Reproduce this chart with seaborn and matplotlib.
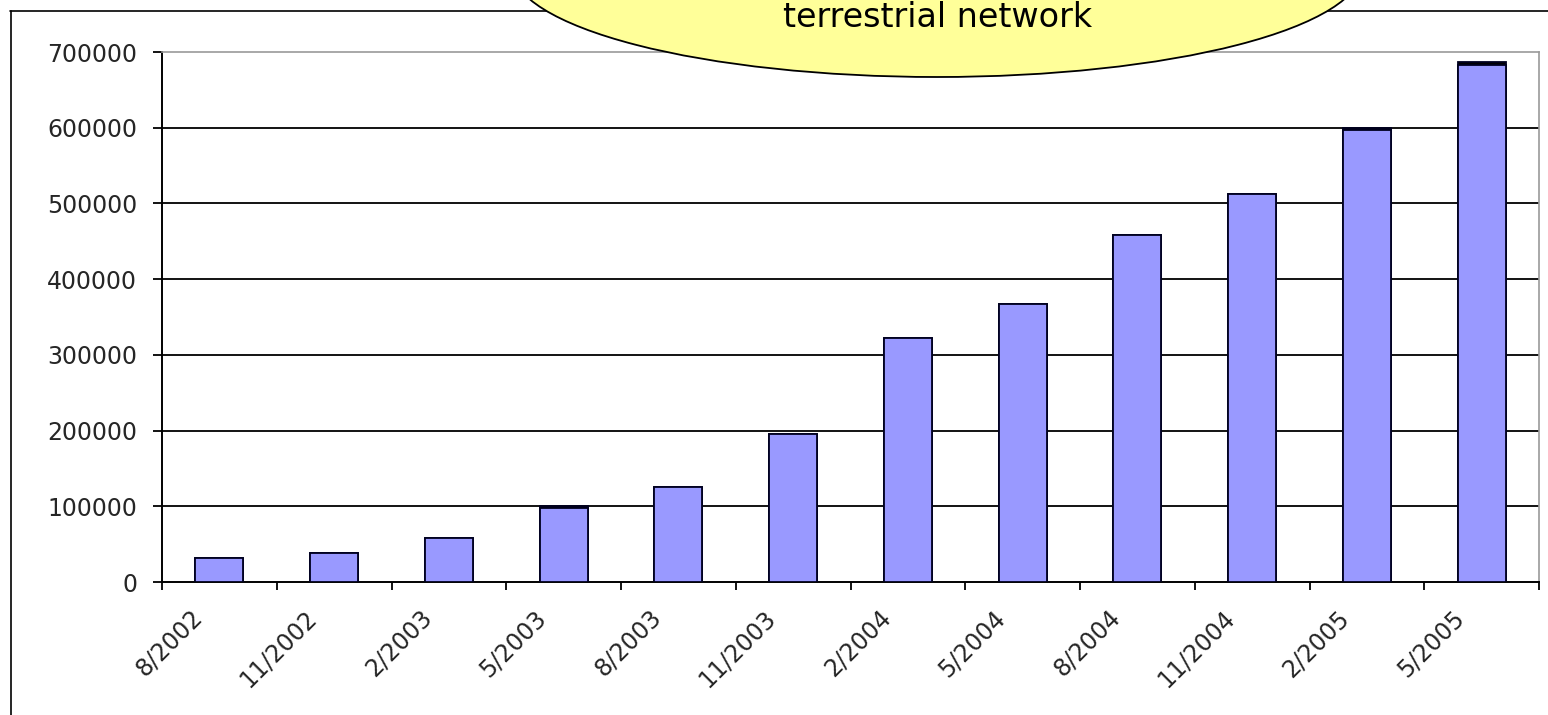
import matplotlib
matplotlib.use("Agg")
import matplotlib.pyplot as plt
import matplotlib.transforms as mtransforms
import seaborn as sns
import pandas as pd
import numpy as np
from matplotlib.patches import Ellipse
from matplotlib.lines import Line2D
from matplotlib.ticker import FixedLocator, NullFormatter

# ---- data ----
categories = ["8/2002", "11/2002", "2/2003", "5/2003", "8/2003", "11/2003",
              "2/2004", "5/2004", "8/2004", "11/2004", "2/2005", "5/2005"]
terrestrial = [31800, 38400, 58300, 97500, 125800, 195600,
               321900, 366900, 458000, 512600, 597000, 683000]
other = [0, 0, 0, 2500, 0, 0, 0, 0, 0, 0, 3000, 3500]
y_ticks = [0, 100000, 200000, 300000, 400000, 500000, 600000, 700000]
callout_text = "terrestrial network"

sns.set_style("white")
plt.rcParams['font.family'] = ['DejaVu Sans']

W, H = 1548, 715
fig = plt.figure(figsize=(W / 100, H / 100), dpi=100)
fig.patch.set_facecolor("white")

# outer frame (top and left edges visible)
fig.add_artist(Line2D([10.5 / W, 10.5 / W], [0, 1 - 11 / H], transform=fig.transFigure,
                      color="black", lw=1.2, zorder=1))
fig.add_artist(Line2D([10 / W, 1], [1 - 11 / H, 1 - 11 / H], transform=fig.transFigure,
                      color="black", lw=1.2, zorder=1))

left, right, top, bottom = 162, 1539, 52, 582
ax = fig.add_axes([left / W, 1 - bottom / H, (right - left) / W, (bottom - top) / H])
ax.set_zorder(2)

df = pd.DataFrame({"period": categories, "terrestrial": terrestrial, "other": other})
df["total"] = df["terrestrial"] + df["other"]

sns.barplot(data=df, x="period", y="total", color="black", width=0.42, saturation=1,
            edgecolor="#000020", linewidth=1.3, ax=ax, zorder=3)
sns.barplot(data=df, x="period", y="terrestrial", color="#9999FF", width=0.42, saturation=1,
            edgecolor="#000020", linewidth=1.3, ax=ax, zorder=3)

ax.set_xlim(-0.5, len(categories) - 0.5)
ax.set_ylim(0, 700000)
ax.set_xlabel("")
ax.set_ylabel("")

# y axis
ax.yaxis.set_major_locator(FixedLocator(y_ticks))
ax.set_yticklabels([str(v) for v in y_ticks])
ax.tick_params(axis="y", which="major", left=True, length=6.5, width=1.3, direction="out",
               color="black", labelsize=17, labelcolor="#262626", pad=11.5)
ax.yaxis.grid(True, color="black", lw=1.3)
ax.set_axisbelow(True)
ax.get_yaxis().get_major_ticks()[-1].gridline.set_visible(False)
ax.get_yaxis().get_major_ticks()[0].gridline.set_visible(False)

# x axis: ticks at category boundaries, labels at centers
ax.xaxis.set_major_locator(FixedLocator(np.arange(-0.5, len(categories), 1.0)))
ax.xaxis.set_major_formatter(NullFormatter())
ax.xaxis.set_minor_locator(FixedLocator(np.arange(len(categories))))
ax.set_xticklabels(categories, minor=True)
ax.tick_params(axis="x", which="major", bottom=True, length=6, width=1.3, direction="out",
               color="black")
ax.tick_params(axis="x", which="minor", bottom=True, length=0, labelsize=17,
               labelcolor="#262626", pad=23)
shift = mtransforms.ScaledTranslation(-21 / 100, 0, fig.dpi_scale_trans)
for lab in ax.get_xticklabels(minor=True):
    lab.set_rotation(45)
    lab.set_ha("right")
    lab.set_va("center")
    lab.set_rotation_mode("anchor")
    lab.set_transform(lab.get_transform() + shift)

for s in ["left", "bottom"]:
    ax.spines[s].set_color("black")
    ax.spines[s].set_linewidth(1.4)
for s in ["top", "right"]:
    ax.spines[s].set_visible(True)
    ax.spines[s].set_color("#9a9a9a")
    ax.spines[s].set_linewidth(1.2)

# callout ellipse at top (cut off by the figure edge)
ell = Ellipse((937 / W, 1 + 33 / H), 852 / W, 220 / H, transform=fig.transFigure,
              facecolor="#FFFF99", edgecolor="black", lw=1.3, zorder=10)
fig.add_artist(ell)
fig.text(938 / W, 1 - 27 / H, callout_text, ha="center", va="baseline",
         fontsize=24, color="black", zorder=11)

fig.savefig("out.png", dpi=100)
